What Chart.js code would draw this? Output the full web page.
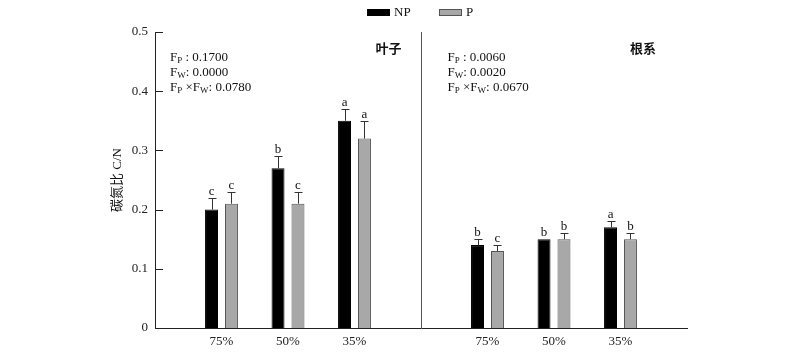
<!DOCTYPE html>
<html>
<head>
<meta charset="utf-8">
<script src="https://cdn.jsdelivr.net/npm/chart.js@4.4.1/dist/chart.umd.min.js"></script>
<style>
  html, body { margin: 0; padding: 0; background: #fff; }
  #wrap { width: 800px; height: 352px; }
</style>
</head>
<body>
<div id="wrap"><canvas id="chart"></canvas></div>
<script>
// ===== Data =====
const categories = ['', '75%', '50%', '35%', '', '75%', '50%', '35%', ''];
const npValues  = [null, 0.20, 0.27, 0.35, null, 0.14, 0.15, 0.17, null];
const npErrors  = [null, 0.02, 0.02, 0.02, null, 0.01, 0.00, 0.01, null];
const npLetters = [null, 'c', 'b', 'a', null, 'b', 'b', 'a', null];
const pValues   = [null, 0.21, 0.21, 0.32, null, 0.13, 0.15, 0.15, null];
const pErrors   = [null, 0.02, 0.02, 0.03, null, 0.01, 0.01, 0.01, null];
const pLetters  = [null, 'c', 'c', 'a', null, 'c', 'b', 'b', null];
const yTicks = [0, 0.1, 0.2, 0.3, 0.4, 0.5];
const panelNames = ['叶子', '根系'];
const leafStats = ['0.1700', '0.0000', '0.0780'];
const rootStats = ['0.0060', '0.0020', '0.0670'];

const SERIF = "'Liberation Serif', 'Noto Sans CJK SC', serif";
const CJK = "'Noto Sans CJK SC', sans-serif";

// ===== Helpers =====
function drawRich(ctx, x, y, parts) {
  // parts: [text, isSub]
  parts.forEach(([t, sub]) => {
    ctx.font = (sub ? '9px ' : '13px ') + SERIF;
    ctx.fillText(t, x, sub ? y + 2 : y);
    x += ctx.measureText(t).width;
  });
}

function drawStats(ctx, x, y, vals) {
  drawRich(ctx, x, y, [['F'], ['P', 1], [' : ' + vals[0]]]);
  drawRich(ctx, x, y + 15, [['F'], ['W', 1], [': ' + vals[1]]]);
  drawRich(ctx, x, y + 30, [['F'], ['P', 1], [' \u00D7F'], ['W', 1], [': ' + vals[2]]]);
}

// ===== Annotation plugin: ticks, error bars, letters, divider, texts, legend =====
const annotations = {
  id: 'annotations',
  afterDraw(chart) {
    const { ctx, scales: { x, y }, chartArea } = chart;
    ctx.save();

    // inward y ticks
    ctx.strokeStyle = '#222';
    ctx.lineWidth = 1;
    ctx.beginPath();
    yTicks.forEach(v => {
      const py = Math.round(y.getPixelForValue(v)) + 0.5;
      ctx.moveTo(chartArea.left, py);
      ctx.lineTo(chartArea.left + 8, py);
    });
    ctx.stroke();

    chart.data.datasets.forEach((ds, di) => {
      const meta = chart.getDatasetMeta(di);
      meta.data.forEach((bar, i) => {
        const v = ds.data[i];
        if (v == null) return;
        const e = ds.errors[i] || 0;
        const top = y.getPixelForValue(v + e);
        if (e > 0) {
          ctx.strokeStyle = '#333';
          ctx.lineWidth = 1;
          ctx.beginPath();
          ctx.moveTo(Math.round(bar.x) + 0.5, bar.y);
          ctx.lineTo(Math.round(bar.x) + 0.5, Math.round(top) + 0.5);
          ctx.moveTo(Math.round(bar.x) - 3.5, Math.round(top) + 0.5);
          ctx.lineTo(Math.round(bar.x) + 4.5, Math.round(top) + 0.5);
          ctx.stroke();
        }
        ctx.fillStyle = '#111';
        ctx.font = '13px ' + SERIF;
        ctx.textAlign = 'center';
        ctx.textBaseline = 'alphabetic';
        ctx.fillText(ds.letters[i], bar.x, top - 3);
      });
    });

    // divider between panels
    const xd = Math.round(x.getPixelForValue(4)) + 0.5;
    ctx.strokeStyle = '#555';
    ctx.lineWidth = 1;
    ctx.beginPath();
    ctx.moveTo(xd, chartArea.top);
    ctx.lineTo(xd, chartArea.bottom);
    ctx.stroke();

    // stats text
    ctx.fillStyle = '#111';
    ctx.textAlign = 'left';
    ctx.textBaseline = 'alphabetic';
    drawStats(ctx, chartArea.left + 15, 61, leafStats);
    drawStats(ctx, xd + 26, 61, rootStats);

    // panel names
    ctx.font = 'bold 13px ' + CJK;
    ctx.textAlign = 'right';
    ctx.textBaseline = 'middle';
    ctx.fillText(panelNames[0], xd - 20, 48);
    ctx.fillText(panelNames[1], chartArea.right - 31, 48);

    // legend
    ctx.textAlign = 'left';
    ctx.font = '13px ' + SERIF;
    const items = [[367, 0], [439, 1]];
    items.forEach(([lx, di]) => {
      const ds = chart.data.datasets[di];
      ctx.fillStyle = ds.backgroundColor;
      ctx.fillRect(lx, 9, 23, 7);
      ctx.strokeStyle = ds.borderColor;
      ctx.strokeRect(lx + 0.5, 9.5, 22, 6);
      ctx.fillStyle = '#111';
      ctx.fillText(ds.label, lx + 27, 13);
    });

    ctx.restore();
  }
};

// ===== Chart =====
new Chart(document.getElementById('chart'), {
  type: 'bar',
  data: {
    labels: categories,
    datasets: [
      { label: 'NP', data: npValues, errors: npErrors, letters: npLetters,
        backgroundColor: '#000', borderColor: '#000', borderWidth: 1 },
      { label: 'P', data: pValues, errors: pErrors, letters: pLetters,
        backgroundColor: '#a8a8a8', borderColor: '#555', borderWidth: 1 }
    ]
  },
  options: {
    responsive: true, maintainAspectRatio: false, animation: false,
    layout: { padding: { top: 32, right: 113, bottom: 0, left: 0 } },
    datasets: { bar: { categoryPercentage: 0.6, barPercentage: 0.65 } },
    plugins: { legend: { display: false }, tooltip: { enabled: false } },
    scales: {
      x: {
        offset: false,
        grid: { display: false, drawTicks: false },
        border: { display: true, color: '#222', width: 1 },
        ticks: { font: { family: SERIF, size: 13 }, color: '#222', padding: 6, maxRotation: 0, autoSkip: false },
        afterFit: s => { s.height = 24; }
      },
      y: {
        min: 0, max: 0.5,
        afterBuildTicks: s => { s.ticks = yTicks.map(v => ({ value: v })); },
        grid: { display: false, drawTicks: false },
        border: { display: true, color: '#222', width: 1 },
        ticks: { font: { family: SERIF, size: 13 }, color: '#222', padding: 7,
                 callback: v => v === 0 ? '0' : v.toFixed(1) },
        title: { display: true, text: '碳氮比 C/N', font: { family: SERIF, size: 13 }, color: '#111',
                 padding: { top: 110, bottom: 0 } },
        afterFit: s => { s.width = 155; }
      }
    }
  },
  plugins: [annotations]
});
</script>
</body>
</html>
